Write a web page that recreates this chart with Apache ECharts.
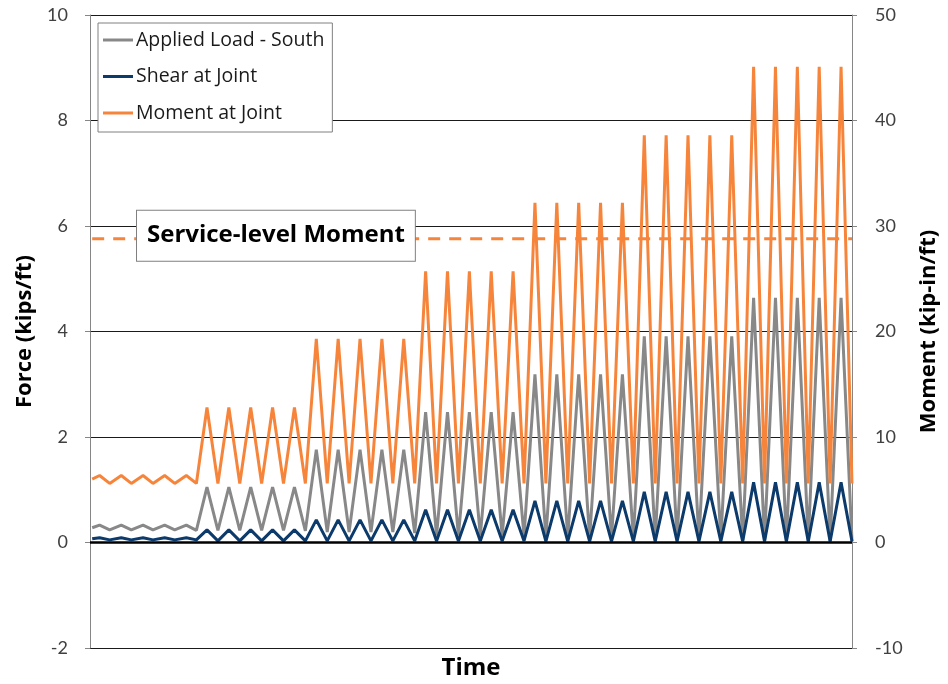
<!DOCTYPE html>
<html>
<head>
<meta charset="utf-8">
<script src="https://cdn.jsdelivr.net/npm/echarts@6/dist/echarts.min.js"></script>
<style>
html,body{margin:0;padding:0;background:#fff;}
#chart{width:948px;height:684px;}
</style>
</head>
<body>
<div id="chart"></div>
<script>
// Time positions (arbitrary units, one unit = half a load cycle)
var time = [0.2, 0.88, 1.8, 2.86, 3.78, 4.85, 5.76, 6.83, 7.75, 8.81, 9.73,
  10.7, 11.7, 12.7, 13.7, 14.7, 15.7, 16.7, 17.7, 18.7, 19.7,
  20.7, 21.7, 22.7, 23.7, 24.7, 25.7, 26.7, 27.7, 28.7, 29.7,
  30.7, 31.7, 32.7, 33.7, 34.7, 35.7, 36.7, 37.7, 38.7, 39.7,
  40.7, 41.7, 42.7, 43.7, 44.7, 45.7, 46.7, 47.7, 48.7, 49.7,
  50.7, 51.7, 52.7, 53.7, 54.7, 55.7, 56.7, 57.7, 58.7, 59.7,
  60.7, 61.7, 62.7, 63.7, 64.7, 65.7, 66.7, 67.7, 68.7, 69.7];

// Applied Load - South (kips/ft)
var appliedLoad = [0.28, 0.33, 0.24, 0.33, 0.24, 0.33, 0.24, 0.33, 0.24, 0.33, 0.23,
  1.05, 0.23, 1.05, 0.23, 1.05, 0.23, 1.05, 0.23, 1.05, 0.22,
  1.76, 0.20, 1.76, 0.20, 1.76, 0.20, 1.76, 0.20, 1.76, 0.18,
  2.47, 0.13, 2.47, 0.13, 2.47, 0.13, 2.47, 0.13, 2.47, 0.12,
  3.19, 0.09, 3.19, 0.09, 3.19, 0.09, 3.19, 0.09, 3.19, 0.08,
  3.91, 0.06, 3.91, 0.06, 3.91, 0.06, 3.91, 0.06, 3.91, 0.05,
  4.64, 0.03, 4.64, 0.03, 4.64, 0.03, 4.64, 0.03, 4.64, 0.03];

// Shear at Joint (kips/ft)
var shear = [0.07, 0.09, 0.05, 0.09, 0.05, 0.09, 0.05, 0.09, 0.05, 0.09, 0.05,
  0.24, 0.03, 0.24, 0.03, 0.24, 0.03, 0.24, 0.03, 0.24, 0.03,
  0.43, 0.03, 0.43, 0.03, 0.43, 0.03, 0.43, 0.03, 0.43, 0.03,
  0.62, 0.03, 0.62, 0.03, 0.62, 0.03, 0.62, 0.03, 0.62, 0.03,
  0.79, 0.02, 0.79, 0.02, 0.79, 0.02, 0.79, 0.02, 0.79, 0.02,
  0.96, 0.02, 0.96, 0.02, 0.96, 0.02, 0.96, 0.02, 0.96, 0.02,
  1.14, 0.02, 1.14, 0.02, 1.14, 0.02, 1.14, 0.02, 1.14, 0.02];

// Moment at Joint (kip-in/ft)
var moment = [6.0, 6.35, 5.6, 6.35, 5.6, 6.35, 5.6, 6.35, 5.6, 6.35, 5.6,
  12.8, 5.6, 12.8, 5.6, 12.8, 5.6, 12.8, 5.6, 12.8, 5.6,
  19.3, 5.6, 19.3, 5.6, 19.3, 5.6, 19.3, 5.6, 19.3, 5.6,
  25.7, 5.6, 25.7, 5.6, 25.7, 5.6, 25.7, 5.6, 25.7, 5.6,
  32.2, 5.6, 32.2, 5.6, 32.2, 5.6, 32.2, 5.6, 32.2, 5.6,
  38.6, 5.6, 38.6, 5.6, 38.6, 5.6, 38.6, 5.6, 38.6, 5.6,
  45.1, 5.6, 45.1, 5.6, 45.1, 5.6, 45.1, 5.6, 45.1, 5.6];

var serviceMoment = 28.8;
var serviceSpan = [0.2, 69.7];
var serviceLabel = 'Service-level Moment';
var labelTime = 4.3;

var forceTicks = {min: -2, max: 10, interval: 2};
var momentTicks = {min: -10, max: 50, interval: 10};

function pairs(xs, ys) { return xs.map(function (x, i) { return [x, ys[i]]; }); }

var FONT = '"Open Sans"';
var TICKFONT = 'Lato';
var chart = echarts.init(document.getElementById('chart'), null, {renderer: 'canvas'});
var option = {
  animation: false,
  backgroundColor: '#fff',
  grid: {left: 90, right: 96, top: 15, bottom: 36, containLabel: false, outerBoundsMode: 'none'},
  legend: {
    data: ['Applied Load - South', 'Shear at Joint', 'Moment at Joint'],
    orient: 'vertical', left: 98, top: 23, icon: 'rect',
    backgroundColor: '#fff', borderColor: '#808080', borderWidth: 1,
    padding: [6, 8, 8, 5], itemGap: 14.5, itemWidth: 30, itemHeight: 3,
    textStyle: {fontFamily: FONT, fontSize: 19.5, color: '#1a1a1a', lineHeight: 22, padding: [0, 0, 0, -2]}
  },
  xAxis: {
    type: 'value', min: 0, max: 69.7,
    name: 'Time', nameLocation: 'middle', nameGap: 8,
    nameTextStyle: {fontFamily: FONT, fontSize: 24, fontWeight: 'bold', color: '#000'},
    axisLine: {show: false, onZero: false}, axisTick: {show: false},
    axisLabel: {show: false}, splitLine: {show: false}
  },
  yAxis: [{
    type: 'value', min: forceTicks.min, max: forceTicks.max, interval: forceTicks.interval,
    position: 'left',
    name: 'Force (kips/ft)', nameLocation: 'middle', nameGap: 47, nameRotate: 90,
    nameTextStyle: {fontFamily: FONT, fontSize: 22, fontWeight: 'bold', color: '#000'},
    axisLine: {show: true, onZero: false, lineStyle: {color: '#868686', width: 1}},
    axisTick: {show: true, length: 5, lineStyle: {color: '#868686'}},
    axisLabel: {fontFamily: TICKFONT, fontSize: 18, color: '#404040', margin: 22},
    splitLine: {show: true, lineStyle: {color: '#1a1a1a', width: 1}}
  }, {
    type: 'value', min: momentTicks.min, max: momentTicks.max, interval: momentTicks.interval,
    position: 'right',
    name: 'Moment (kip-in/ft)', nameLocation: 'middle', nameGap: 66, nameRotate: 90,
    nameTextStyle: {fontFamily: FONT, fontSize: 22, fontWeight: 'bold', color: '#000'},
    axisLine: {show: true, onZero: false, lineStyle: {color: '#868686', width: 1}},
    axisTick: {show: true, length: 5, lineStyle: {color: '#868686'}},
    axisLabel: {fontFamily: TICKFONT, fontSize: 18, color: '#404040', margin: 23},
    splitLine: {show: false}
  }],
  series: [{
    name: 'Applied Load - South', type: 'line', yAxisIndex: 0,
    data: pairs(time, appliedLoad), showSymbol: false, symbol: 'none',
    lineStyle: {color: '#888888', width: 3}, itemStyle: {color: '#888888'}
  }, {
    name: 'Shear at Joint', type: 'line', yAxisIndex: 0,
    data: pairs(time, shear), showSymbol: false, symbol: 'none',
    lineStyle: {color: '#0b3a6b', width: 3}, itemStyle: {color: '#0b3a6b'},
    markLine: {
      silent: true, symbol: 'none', label: {show: false},
      lineStyle: {color: '#000', width: 2.5, type: 'solid'},
      data: [{yAxis: 0}]
    }
  }, {
    name: 'Moment at Joint', type: 'line', yAxisIndex: 1,
    data: pairs(time, moment), showSymbol: false, symbol: 'none',
    lineStyle: {color: '#f6853b', width: 3}, itemStyle: {color: '#f6853b'}
  }, {
    name: 'Service-level Moment', type: 'line', yAxisIndex: 1,
    data: [[serviceSpan[0], serviceMoment], [serviceSpan[1], serviceMoment]],
    showSymbol: false, symbol: 'none',
    lineStyle: {color: '#f6853b', width: 3, type: [12, 9]}
  }]
};
chart.setOption(option);

var py = chart.convertToPixel({yAxisIndex: 1}, serviceMoment);
var px = chart.convertToPixel({xAxisIndex: 0}, labelTime);
chart.setOption({
  graphic: [{
    type: 'text', x: px, y: py - 28, z: 100,
    style: {
      text: serviceLabel, fontFamily: FONT, fontSize: 24, fontWeight: 'bold', fill: '#000',
      backgroundColor: '#fff', borderColor: '#808080', borderWidth: 1,
      padding: [12, 10, 14, 10], align: 'left', verticalAlign: 'top'
    }
  }]
});
</script>
</body>
</html>
